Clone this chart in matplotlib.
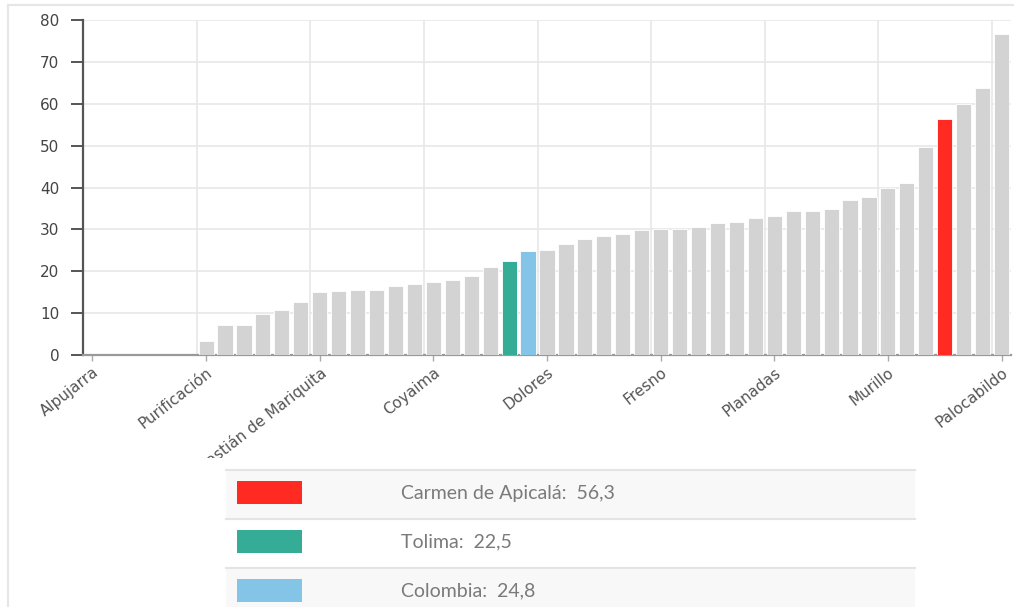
import matplotlib
matplotlib.use("Agg")
import matplotlib.pyplot as plt
from matplotlib.patches import Rectangle
from matplotlib.transforms import Bbox

# municipios de Tolima + Tolima y Colombia, ordenados por valor
names = ["Alpujarra", "Alvarado", "Ambalema", "Anzoátegui", "Armero", "Ataco",
         "Purificación", "Cajamarca", "Casabianca", "Chaparral", "Coello", "Cunday",
         "San Sebastián de Mariquita", "Espinal", "Falan", "Flandes", "Guamo", "Herveo",
         "Coyaima", "Honda", "Icononzo", "Ibagué", "Tolima", "Colombia",
         "Dolores", "Lérida", "Líbano", "Melgar", "Natagaima", "Ortega",
         "Fresno", "Piedras", "Prado", "Rioblanco", "Roncesvalles", "Rovira",
         "Planadas", "Saldaña", "San Antonio", "San Luis", "Santa Isabel", "Suárez",
         "Murillo", "Valle de San Juan", "Venadillo", "Carmen de Apicalá", "Villahermosa", "Villarrica",
         "Palocabildo"]
values = [0, 0, 0, 0, 0, 0,
          3.3, 7.1, 7.1, 9.9, 10.7, 12.7,
          15.0, 15.3, 15.5, 15.5, 16.4, 16.9,
          17.5, 17.8, 18.9, 21.0, 22.5, 24.8,
          25.1, 26.6, 27.8, 28.3, 28.9, 29.8,
          30.1, 30.2, 30.5, 31.5, 31.7, 32.8,
          33.3, 34.3, 34.3, 34.8, 37.1, 37.7,
          39.8, 41.1, 49.6, 56.3, 60.0, 63.7,
          76.7]
highlight = {"Carmen de Apicalá": "#ff2a22", "Tolima": "#35ad96", "Colombia": "#84c4e6"}
legend_names = ["Carmen de Apicalá", "Tolima", "Colombia"]
label_every = 6
yticks = [0, 10, 20, 30, 40, 50, 60, 70, 80]

W, H = 1014, 607
fig = plt.figure(figsize=(W / 100, H / 100), dpi=100)

def fx(px):
    return px / W

def fy(py):
    return 1 - py / H

ax = fig.add_axes([fx(83), fy(355), fx(1011) - fx(83), fy(20) - fy(355)])

x = list(range(len(names)))
colors = [highlight.get(n, "#d3d3d3") for n in names]
ax.bar(x, values, width=0.8, color=colors, edgecolor="white", linewidth=0.6, zorder=3)

ax.set_xlim(-0.5, len(names) - 0.5)
ax.set_ylim(0, 80)

for y in yticks[1:]:
    ax.axhline(y, color="#e8e8e8", linewidth=1.2, zorder=1)
for i in range(label_every, len(names), label_every):
    ax.axvline(i - 0.5, color="#e8e8e8", linewidth=1.2, zorder=1)

ax.set_yticks(yticks)
ax.set_yticklabels([str(v) for v in yticks], fontsize=11, color="#444444")
ax.tick_params(axis="y", length=9, width=1.4, color="#555555", pad=8)

tick_pos = x[::label_every]
ax.set_xticks(tick_pos)
labels = ax.set_xticklabels([names[i] for i in tick_pos], rotation=38, ha="right",
                            rotation_mode="anchor", fontsize=11, color="#555555")
ax.tick_params(axis="x", length=4, width=1, color="#aaaaaa", pad=3)

clip = Bbox.from_extents(0, fy(458) * H, W, H)
for t in labels:
    t.set_clip_box(clip)
    t.set_clip_on(True)

for s in ["top", "right"]:
    ax.spines[s].set_visible(False)
ax.spines["left"].set_color("#555555")
ax.spines["left"].set_linewidth(1.6)
ax.spines["bottom"].set_color("#999999")
ax.spines["bottom"].set_linewidth(1.6)

# marco exterior
fig.add_artist(plt.Line2D([fx(8), 1], [fy(5), fy(5)], color="#e6e6e6", linewidth=1.5))
fig.add_artist(plt.Line2D([fx(8), fx(8)], [0, fy(5)], color="#e6e6e6", linewidth=1.5))

# leyenda en forma de tabla
row_tops = [470, 519, 568]
row_h = 49
for k, name in enumerate(legend_names):
    top = row_tops[k]
    bg = "#f8f8f8" if k % 2 == 0 else "white"
    fig.add_artist(Rectangle((fx(226), fy(top + row_h)), fx(915) - fx(226), row_h / H,
                             facecolor=bg, edgecolor="none"))
    fig.add_artist(plt.Line2D([fx(226), fx(915)], [fy(top), fy(top)],
                              color="#e4e4e4", linewidth=1.5))
    fig.add_artist(Rectangle((fx(237), fy(top + 34)), fx(302) - fx(237), 23 / H,
                             facecolor=highlight[name], edgecolor="none"))
    val = values[names.index(name)]
    fig.text(fx(401), fy(top + 23), f"{name}:  {val:.1f}".replace(".", ","),
             fontsize=14, color="#7a7a7a", family=["Lato", "DejaVu Sans"],
             va="center", ha="left")

fig.savefig("out.png", dpi=100)
